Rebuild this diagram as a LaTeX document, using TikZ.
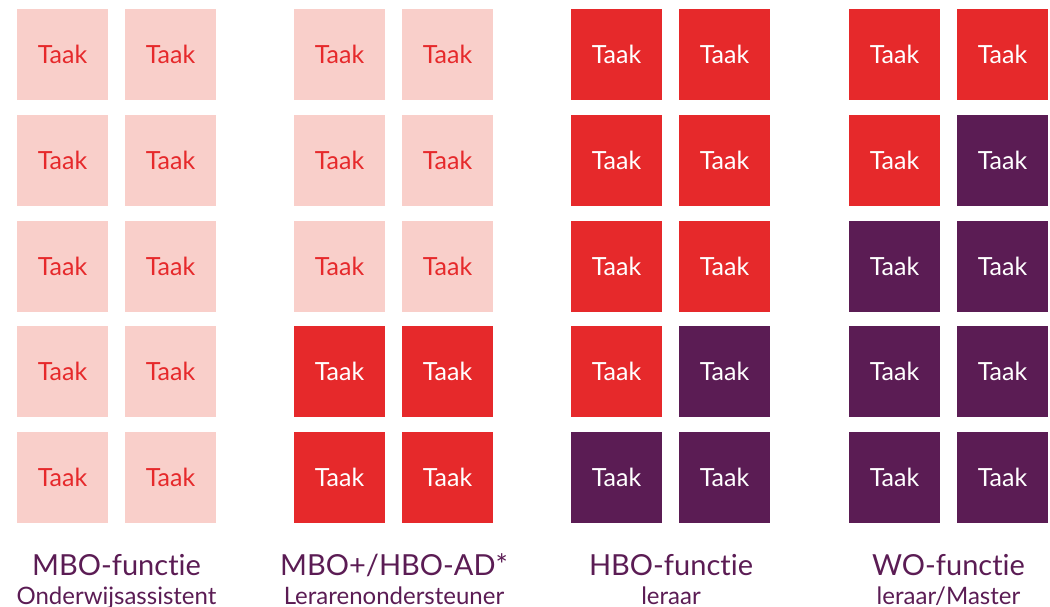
\documentclass[tikz,border=0pt]{standalone}
\usepackage{fontspec}
\setmainfont{Lato}[Ligatures={NoCommon,NoRare,NoContextual}]
\definecolor{pinkc}{HTML}{F9CFCA}
\definecolor{redc}{HTML}{E6292B}
\definecolor{purc}{HTML}{5B1C54}
\begin{document}
\begin{tikzpicture}[x=1pt,y=-1pt,
  taak/.style={minimum size=91pt, inner sep=0pt, outer sep=0pt, font=\fontsize{25}{30}\selectfont},
  tL/.style={taak, fill=pinkc, text=redc},
  tR/.style={taak, fill=redc, text=white},
  tP/.style={taak, fill=purc, text=white},
  title/.style={anchor=base, text=purc, inner sep=0pt, font=\fontsize{29}{33}\selectfont},
  subtitle/.style={anchor=base, text=purc, inner sep=0pt, font=\fontsize{24}{28}\selectfont}]
\useasboundingbox (0,0) rectangle (1050,607);
% group, left x, list of styles row by row (col1/col2)
\foreach \g/\gx/\styles in {
  1/17/{L,L,L,L,L,L,L,L,L,L},
  2/294/{L,L,L,L,L,L,R,R,R,R},
  3/571/{R,R,R,R,R,R,R,P,P,P},
  4/849/{R,R,R,P,P,P,P,P,P,P}}{
  \foreach \s [count=\i from 0] in \styles {
    \pgfmathtruncatemacro{\r}{div(\i,2)}
    \pgfmathtruncatemacro{\c}{mod(\i,2)}
    \pgfmathsetmacro{\cx}{\gx+45.5+108*\c}
    \pgfmathsetmacro{\cy}{54.5+105.75*\r}
    \node[t\s] (g\g r\r c\c) at (\cx,\cy) {Taak};
  }
}
\node[title] (t1) at (116.5,575) {MBO-functie};
\node[subtitle] (s1) at (116.5,604) {Onderwijsassistent};
\node[title] (t2) at (394,575) {MBO+/HBO-AD*};
\node[subtitle] (s2) at (394,604) {Lerarenondersteuner};
\node[title] (t3) at (671,575) {HBO-functie};
\node[subtitle] (s3) at (671,604) {leraar};
\node[title] (t4) at (948.5,575) {WO-functie};
\node[subtitle] (s4) at (948.5,604) {leraar/Master};
\end{tikzpicture}
\end{document}
